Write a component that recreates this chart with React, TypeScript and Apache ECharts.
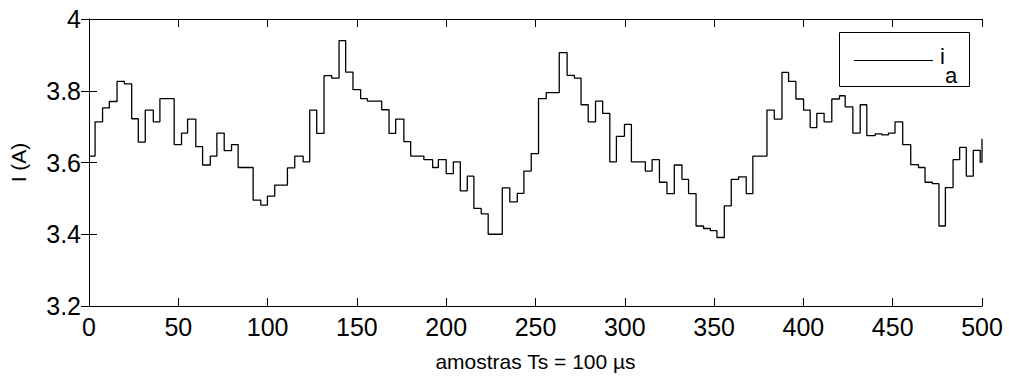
import React, { useEffect, useRef } from "react";
import * as echarts from "echarts";

// sample index where each held step begins
const stepStart: number[] = [
  0, 3.4, 7.6, 11.4, 15.7, 19.8, 23.9, 27.6, 31.5, 36, 39.7, 47.7, 51.8, 55.2, 59.8, 63.6, 67.9, 71.6, 75.7, 79.8,
  83.5, 91.9, 96.2, 99.9, 104, 111.1, 115.2, 119.9, 123.6, 127.5, 131.6, 135.9, 140, 143.7, 147.8, 152.1, 155.9,
  163.9, 168, 171.7, 176.3, 180.1, 187.5, 192.4, 195.6, 200, 204, 207.9, 211.8, 215.5, 219.6, 223.5, 231.4, 235.6,
  239.8, 243.5, 247.6, 251.7, 256, 263.3, 267.7, 271.8, 275.5, 279.5, 283.6, 287.6, 291.6, 295.3, 299.8, 303.7,
  311.5, 315.3, 319.4, 323.6, 327.7, 332, 335.7, 339.9, 344.1, 347.9, 351.6, 355.7, 359.6, 363.7, 368, 371.7,
  379.6, 383.7, 388, 391.7, 395.8, 400.1, 403.8, 407.5, 411.6, 415.9, 420.2, 423.4, 427.7, 431.8, 435.5, 440.2,
  443.9, 447.6, 451.3, 455.6, 460.1, 464.4, 468.1, 472.2, 475.9, 479.5, 483.8, 487.5, 491.2, 495.1, 499, 500,
];

// current i_a (A) held from each step start
const currentA: number[] = [
  3.618, 3.713, 3.752, 3.77, 3.826, 3.819, 3.722, 3.657, 3.746, 3.713, 3.778, 3.65, 3.682, 3.721, 3.644, 3.593,
  3.618, 3.682, 3.633, 3.65, 3.586, 3.495, 3.481, 3.506, 3.537, 3.585, 3.618, 3.602, 3.746, 3.681, 3.842, 3.835,
  3.94, 3.852, 3.803, 3.778, 3.771, 3.747, 3.681, 3.721, 3.658, 3.618, 3.608, 3.586, 3.608, 3.569, 3.602, 3.521,
  3.562, 3.472, 3.457, 3.4, 3.529, 3.49, 3.514, 3.576, 3.625, 3.778, 3.795, 3.906, 3.843, 3.835, 3.761, 3.713,
  3.771, 3.737, 3.602, 3.673, 3.706, 3.602, 3.576, 3.608, 3.545, 3.513, 3.593, 3.553, 3.513, 3.423, 3.416, 3.41,
  3.391, 3.479, 3.553, 3.56, 3.513, 3.618, 3.746, 3.721, 3.851, 3.826, 3.777, 3.746, 3.697, 3.737, 3.713, 3.777,
  3.786, 3.755, 3.682, 3.761, 3.675, 3.68, 3.677, 3.682, 3.713, 3.65, 3.594, 3.586, 3.545, 3.541, 3.423, 3.53,
  3.608, 3.642, 3.562, 3.634, 3.601, 3.666,
];

const xTicks = { min: 0, max: 500, interval: 50 };
const yTicks = { min: 3.2, max: 4, interval: 0.2 };

const seriesName = "i";
const seriesSub = "a";
const xTitle = "amostras Ts = 100 \u00b5s";
const yTitle = "I (A)";

export default function App() {
  const ref = useRef<HTMLDivElement>(null);
  useEffect(() => {
    if (!ref.current) return;
    const chart = echarts.init(ref.current, null, { renderer: "svg" });
    const font = "'Liberation Sans', Arial, Helvetica, sans-serif";
    const data = stepStart.map((s, i) => [s, currentA[i]]);
    const axisLine = { show: true, lineStyle: { color: "#000", width: 1 } };
    const tick = { show: true, inside: true, length: 8, lineStyle: { color: "#000", width: 1 } };
    chart.setOption({
      animation: false,
      backgroundColor: "#fff",
      grid: { left: 88, right: 27, top: 19, bottom: 70, containLabel: false },
      xAxis: [
        {
          type: "value",
          ...xTicks,
          position: "bottom",
          axisLine,
          axisTick: tick,
          splitLine: { show: false },
          axisLabel: { color: "#000", fontSize: 25, fontFamily: font, margin: 8 },
          name: xTitle,
          nameLocation: "middle",
          nameGap: 45,
          nameTextStyle: { color: "#000", fontSize: 21, fontFamily: font },
        },
        {
          type: "value",
          ...xTicks,
          position: "top",
          axisLine,
          axisTick: tick,
          splitLine: { show: false },
          axisLabel: { show: false },
        },
      ],
      yAxis: [
        {
          type: "value",
          ...yTicks,
          position: "left",
          axisLine,
          axisTick: tick,
          splitLine: { show: false },
          axisLabel: { color: "#000", fontSize: 25, fontFamily: font, margin: 8 },
          name: yTitle,
          nameLocation: "middle",
          nameGap: 60,
          nameTextStyle: { color: "#000", fontSize: 21, fontFamily: font },
        },
        {
          type: "value",
          ...yTicks,
          position: "right",
          axisLine,
          axisTick: tick,
          splitLine: { show: false },
          axisLabel: { show: false },
        },
      ],
      series: [
        {
          name: seriesName + seriesSub,
          type: "line",
          step: "end",
          data,
          showSymbol: false,
          lineStyle: { color: "#000", width: 1.3 },
          xAxisIndex: 0,
          yAxisIndex: 0,
        },
      ],
      graphic: [
        {
          type: "rect",
          shape: { x: 839.5, y: 32.5, width: 130, height: 54 },
          style: { fill: "#fff", stroke: "#000", lineWidth: 1 },
          z: 10,
        },
        {
          type: "line",
          shape: { x1: 854, y1: 60.5, x2: 933, y2: 60.5 },
          style: { stroke: "#000", lineWidth: 1 },
          z: 11,
        },
        {
          type: "text",
          x: 940,
          y: 56,
          style: { text: seriesName, fontSize: 22, fontFamily: font, fill: "#000", verticalAlign: "middle" },
          z: 11,
        },
        {
          type: "text",
          x: 945,
          y: 75,
          style: { text: seriesSub, fontSize: 22, fontFamily: font, fill: "#000", verticalAlign: "middle" },
          z: 11,
        },
      ],
    });
    return () => chart.dispose();
  }, []);
  return (
    <div
      ref={ref}
      style={{ position: "fixed", left: 0, top: 0, width: 1009, height: 377, background: "#fff" }}
    />
  );
}
